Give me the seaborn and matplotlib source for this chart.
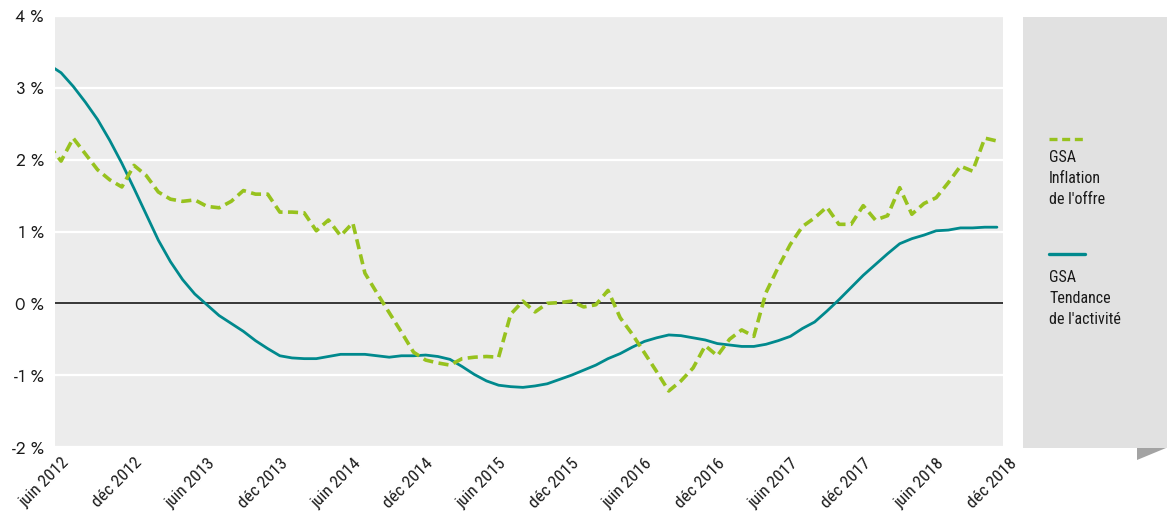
import numpy as np
import pandas as pd
import matplotlib
matplotlib.use("Agg")
import matplotlib.pyplot as plt
import matplotlib.transforms as mtransforms
from matplotlib.lines import Line2D
from matplotlib.patches import Rectangle, Polygon
import seaborn as sns

# Monthly observations, May 2012 to Nov 2018 (the first month lies just left of the axis)
months = pd.period_range("2012-05", "2018-11", freq="M")

inflation_offre = [
    2.20, 1.98, 2.30, 2.08, 1.86, 1.72, 1.62, 1.92, 1.78, 1.55,
    1.45, 1.42, 1.44, 1.35, 1.33, 1.42, 1.57, 1.52, 1.52, 1.27,
    1.27, 1.26, 1.01, 1.16, 0.94, 1.12, 0.42, 0.14, -0.13, -0.40,
    -0.68, -0.79, -0.83, -0.86, -0.77, -0.75, -0.74, -0.75, -0.15, 0.03,
    -0.12, 0.00, 0.01, 0.03, -0.05, -0.02, 0.18, -0.20, -0.43, -0.69,
    -0.95, -1.22, -1.08, -0.90, -0.59, -0.73, -0.50, -0.37, -0.46, 0.15,
    0.50, 0.82, 1.07, 1.19, 1.34, 1.10, 1.10, 1.36, 1.16, 1.22,
    1.61, 1.24, 1.39, 1.47, 1.68, 1.91, 1.84, 2.30, 2.26,
]

tendance_activite = [
    3.32, 3.21, 3.02, 2.80, 2.56, 2.27, 1.95, 1.60, 1.24, 0.88,
    0.58, 0.33, 0.13, -0.02, -0.17, -0.28, -0.39, -0.52, -0.63, -0.73,
    -0.76, -0.77, -0.77, -0.74, -0.71, -0.71, -0.71, -0.73, -0.75, -0.73,
    -0.73, -0.72, -0.74, -0.78, -0.88, -0.99, -1.08, -1.14, -1.16, -1.17,
    -1.15, -1.12, -1.06, -1.00, -0.93, -0.86, -0.77, -0.70, -0.61, -0.53,
    -0.48, -0.44, -0.45, -0.48, -0.51, -0.56, -0.58, -0.60, -0.60, -0.57,
    -0.52, -0.46, -0.35, -0.26, -0.11, 0.05, 0.22, 0.39, 0.54, 0.69,
    0.83, 0.90, 0.95, 1.01, 1.02, 1.05, 1.05, 1.06, 1.06,
]

tick_labels = [
    "juin 2012", "déc 2012", "juin 2013", "déc 2013", "juin 2014",
    "déc 2014", "juin 2015", "déc 2015", "juin 2016", "déc 2016",
    "juin 2017", "déc 2017", "juin 2018", "déc 2018",
]
y_ticks = [-2, -1, 0, 1, 2, 3, 4]

series_names = ["GSA Inflation de l'offre", "GSA Tendance de l'activité"]
legend_lines = [["GSA", "Inflation", "de l'offre"], ["GSA", "Tendance", "de l'activité"]]

GREEN = "#97c21e"
TEAL = "#00898d"
AX_BG = "#ececec"
PANEL_BG = "#e1e1e1"
TEXT = "#1a1a1a"

sns.set_style("white", {"axes.facecolor": AX_BG, "grid.color": "white"})
plt.rcParams["font.family"] = ["Jost", "Liberation Sans", "DejaVu Sans"]
NARROW = ["Roboto Condensed", "Liberation Sans", "DejaVu Sans"]

# month position measured from June 2012; points sit at mid-month
start = pd.Period("2012-06", freq="M")
pos = np.array([(m - start).n for m in months]) + 0.5

df = pd.DataFrame({
    "pos": np.concatenate([pos, pos]),
    "valeur": inflation_offre + tendance_activite,
    "serie": [series_names[0]] * len(pos) + [series_names[1]] * len(pos),
})

fig = plt.figure(figsize=(11.67, 5.13), dpi=100)
W, H = 1167, 513
ax = fig.add_axes([55 / W, (H - 447) / H, 948 / W, 431 / H])

ax.yaxis.grid(True, color="white", lw=1.6, zorder=0)
ax.xaxis.grid(False)
ax.axhline(0, color="black", lw=1.1, zorder=1.5)

sns.lineplot(data=df[df.serie == series_names[1]], x="pos", y="valeur",
             color=TEAL, lw=2.0, ax=ax, zorder=3, legend=False)
sns.lineplot(data=df[df.serie == series_names[0]], x="pos", y="valeur",
             color=GREEN, lw=2.6, ax=ax, zorder=4, legend=False,
             linestyle=(0, (2.8, 1.5)))

n_months = (pd.Period("2018-12", freq="M") - start).n
ax.set_xlim(0, n_months)
ax.set_ylim(min(y_ticks), max(y_ticks))
ax.set_xlabel("")
ax.set_ylabel("")
for s in ax.spines.values():
    s.set_visible(False)

ax.set_yticks(y_ticks)
ax.set_yticklabels([f"{v} %" for v in y_ticks], fontsize=12.5, color=TEXT)
ax.tick_params(axis="y", length=0, pad=8)

xt = np.arange(0, n_months + 1, 6)
ax.set_xticks(xt)
ax.set_xticklabels(tick_labels, rotation=45, ha="right", va="top",
                   rotation_mode="anchor", fontsize=12.5, family=NARROW,
                   color=TEXT)
ax.tick_params(axis="x", length=0, pad=6)
offset = mtransforms.ScaledTranslation(6 / 100, 0, fig.dpi_scale_trans)
for lab in ax.get_xticklabels():
    lab.set_transform(lab.get_transform() + offset)

# legend panel on the right with a folded corner
fig.add_artist(Rectangle((1023 / W, (H - 448) / H), (W - 1023) / W, 431 / H,
                         transform=fig.transFigure, facecolor=PANEL_BG,
                         edgecolor="none", zorder=0))
fig.add_artist(Polygon([(1137 / W, (H - 448) / H), (1166 / W, (H - 448) / H),
                        (1137 / W, (H - 460) / H)], closed=True,
                       transform=fig.transFigure, facecolor="#a3a3a3",
                       edgecolor="none"))

fig.add_artist(Line2D([1049 / W, 1085 / W], [(H - 139) / H] * 2,
                      transform=fig.transFigure, color=GREEN, lw=2.4,
                      linestyle=(0, (2.4, 1.4))))
fig.add_artist(Line2D([1049 / W, 1085 / W], [(H - 254) / H] * 2,
                      transform=fig.transFigure, color=TEAL, lw=2.4))

for lines, y0 in zip(legend_lines, [157, 277]):
    for k, txt in enumerate(lines):
        fig.text(1049 / W, (H - (y0 + 21.5 * k)) / H, txt, ha="left",
                 va="center", fontsize=11.5, family=NARROW, color=TEXT)

fig.savefig("out.png", dpi=100, facecolor="white")
